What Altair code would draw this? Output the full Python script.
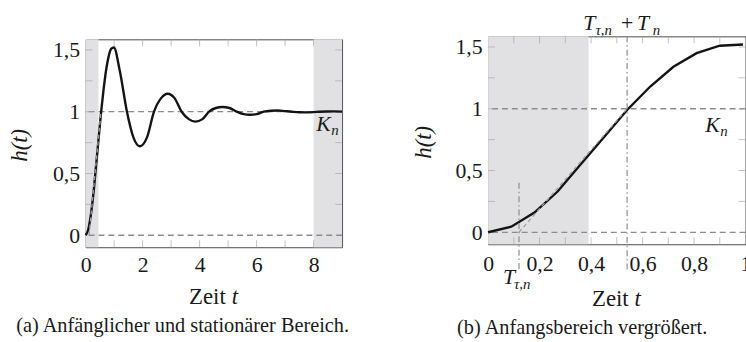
import altair as alt
import pandas as pd

# ---------------- data ----------------
t_vals = [0, 0.09, 0.18, 0.27, 0.36, 0.45, 0.54, 0.63, 0.72, 0.81, 0.90, 0.99,
          1.2, 1.45, 1.68, 1.9, 2.15, 2.4, 2.65, 2.88, 3.12, 3.37, 3.62, 3.85,
          4.1, 4.33, 4.57, 4.8, 5.05, 5.3, 5.55, 5.77, 6.0, 6.25, 6.5, 6.73,
          7.0, 7.25, 7.5, 7.72, 8.0, 8.2, 8.45, 8.7, 9.0]
h_vals = [0, 0.045, 0.16, 0.33, 0.55, 0.77, 0.99, 1.18, 1.34, 1.45, 1.51, 1.52,
          1.33, 1.0, 0.79, 0.72, 0.79, 1.0, 1.11, 1.145, 1.11, 1.0, 0.94, 0.92,
          0.94, 1.0, 1.03, 1.038, 1.03, 1.0, 0.98, 0.975, 0.98, 1.0, 1.008, 1.01,
          1.005, 1.0, 0.996, 0.995, 0.997, 1.0, 1.002, 1.003, 1.001]

shade_a_start = [0, 8]
shade_a_end = [0.45, 9]
shade_b_start = [0]
shade_b_end = [0.39]
ref_levels = [0, 1]                 # dashed lines: 0 and K_n
tangent_t = [0.12, 0.54]
tangent_h = [0, 1]
vline_t = [0.12, 0.54]             # T_tau,n and T_tau,n + T_n
vline_top = [0.4, 1.586]
vline_bottom = [-0.32, -0.32]

xa_labels = [0, 2, 4, 6, 8]
xa_ticks = [1, 2, 3, 4, 5, 6, 7, 8]
xb_labels = [0, 0.2, 0.4, 0.6, 0.8, 1]
xb_ticks = [0.1, 0.2, 0.3, 0.4, 0.5, 0.6, 0.7, 0.8, 0.9]
y_labels = [0, 0.5, 1, 1.5]
y_ticks = [0.25, 0.5, 0.75, 1, 1.25, 1.5]

caption_a = "(a) Anfänglicher und stationärer Bereich."
caption_b = "(b) Anfangsbereich vergrößert."

# ---------------- styling ----------------
W_A, W_B, H = 259, 260, 210
Y_MIN, Y_MAX = -0.097, 1.586
FONT = "'Liberation Serif', 'DejaVu Serif', serif"
TXT = "#1a1a1a"
TICK = "#a8a8a8"
SHADE = "#e1e1e3"
DASH = "#8c8c8c"

curve = pd.DataFrame({"t": t_vals, "h": h_vals})
one = pd.DataFrame({"_": [0]})

xs_a = alt.Scale(domain=[0, 9], nice=False, zero=False)
xs_b = alt.Scale(domain=[0, 1], nice=False, zero=False)
ys = alt.Scale(domain=[Y_MIN, Y_MAX], nice=False, zero=False)

comma = "replace(datum.label, '.', ',')"
ax_xa = alt.Axis(values=xa_labels, format="d", title=None, labelPadding=8,
                 labelFlush=False, labelOverlap=False)
ax_xb = alt.Axis(values=xb_labels, format=".1~f", labelExpr=comma, title=None,
                 labelPadding=10, labelFlush=False, labelOverlap=False)
ax_y = alt.Axis(values=y_labels, format=".1~f", labelExpr=comma, title=None,
                labelPadding=6, labelFlush=False, labelOverlap=False)


def panel(xs, ax_x, xmax, width, shade_s, shade_e, xticks):
    X = lambda f: alt.X(f, type="quantitative", scale=xs, axis=ax_x)
    Y = lambda f: alt.Y(f, type="quantitative", scale=ys, axis=ax_y)
    XD = lambda v: alt.XDatum(v, type="quantitative", scale=xs, axis=ax_x)
    YD = lambda v: alt.YDatum(v, type="quantitative", scale=ys, axis=ax_y)

    shade = alt.Chart(pd.DataFrame({"s": shade_s, "e": shade_e})).mark_rect(
        color=SHADE).encode(x=X("s"), x2="e", y=YD(Y_MIN), y2=alt.Y2Datum(Y_MAX))
    ref = alt.Chart(pd.DataFrame({"r": ref_levels})).mark_rule(
        color=DASH, strokeWidth=1.3, strokeDash=[6, 4]).encode(y=Y("r"))
    tk = pd.DataFrame({"v": xticks})
    tky = pd.DataFrame({"v": y_ticks})
    tb = alt.Chart(tk).mark_tick(orient="vertical", size=7, thickness=1, color=TICK,
                                 yOffset=-3.5).encode(x=X("v"), y=YD(Y_MIN))
    tt = alt.Chart(tk).mark_tick(orient="vertical", size=7, thickness=1, color=TICK,
                                 yOffset=3.5).encode(x=X("v"), y=YD(Y_MAX))
    tl = alt.Chart(tky).mark_tick(orient="horizontal", size=7, thickness=1, color=TICK,
                                  xOffset=3.5).encode(y=Y("v"), x=XD(0))
    tr = alt.Chart(tky).mark_tick(orient="horizontal", size=7, thickness=1, color=TICK,
                                  xOffset=-3.5).encode(y=Y("v"), x=XD(xmax))
    tan = alt.Chart(pd.DataFrame({"t": tangent_t, "h": tangent_h})).mark_line(
        color="#a0a0a0", strokeWidth=1.3, strokeDash=[4, 3], clip=True).encode(
        x=X("t"), y=Y("h"))
    return X, Y, XD, YD, [shade, ref, tb, tt, tl, tr], tan


def txt(text, size=22, style="normal", align="center", baseline="alphabetic",
        dx=0, dy=0, angle=0):
    return alt.Chart(one).mark_text(text=text, font=FONT, fontSize=size,
                                    fontStyle=style, align=align, baseline=baseline,
                                    dx=dx, dy=dy, angle=angle, color=TXT)


# ---------------- left panel ----------------
X, Y, XD, YD, base_a, tan_a = panel(xs_a, ax_xa, 9, W_A, shade_a_start, shade_a_end,
                                    xa_ticks)
line_a = alt.Chart(curve).mark_line(color="#141414", strokeWidth=2.4,
                                    interpolate="monotone").encode(x=X("t"), y=Y("h"))
left_layers = base_a + [line_a, tan_a,
    txt("K", style="italic", align="right").encode(x=XD(8.6), y=YD(0.84)),
    txt("n", size=15, style="italic", align="left", dx=0.5, dy=4).encode(x=XD(8.6), y=YD(0.84)),
    txt("Zeit", size=23, align="right", dx=12).encode(x=XD(4.5), y=alt.value(H + 57)),
    txt("t", size=23, style="italic", align="left", dx=18).encode(x=XD(4.5), y=alt.value(H + 57)),
    txt("h(t)", size=23, style="italic", baseline="middle", angle=270).encode(
        x=alt.value(-66), y=alt.value(107)),
    txt(caption_a, size=20.5).encode(x=alt.value(98), y=alt.value(296)),
]
left = alt.layer(*left_layers).properties(width=W_A, height=H)

# small empty strip that lowers the left panel a few pixels below the right one
spacer = alt.Chart(one).mark_rule(opacity=0).encode(
    x=alt.value(0), y=alt.value(0), y2=alt.value(1)
).properties(width=W_A, height=1, view=alt.ViewBackground(stroke="transparent"))
left_col = alt.vconcat(spacer, left, spacing=0)

# ---------------- right panel ----------------
X, Y, XD, YD, base_b, tan_b = panel(xs_b, ax_xb, 1, W_B, shade_b_start, shade_b_end,
                                    xb_ticks)
line_b = alt.Chart(curve).transform_filter("datum.t <= 1").mark_line(
    color="#141414", strokeWidth=2.4).encode(x=X("t"), y=Y("h"))
vl = alt.Chart(pd.DataFrame({"t": vline_t, "a": vline_top, "b": vline_bottom})).mark_rule(
    color="#8c8c8c", strokeWidth=1.2, strokeDash=[6, 3, 1.5, 3], clip=False).encode(
    x=X("t"), y=Y("a"), y2="b")
right_layers = base_b + [line_b, tan_b, vl,
    txt("K", style="italic", align="right").encode(x=XD(0.9), y=YD(0.815)),
    txt("n", size=15, style="italic", align="left", dx=0.5, dy=4).encode(x=XD(0.9), y=YD(0.815)),
    # T_tau,n + T_n above the plot
    txt("T", style="italic", align="right", dx=-32).encode(x=XD(0.54), y=alt.value(-6.6)),
    txt("τ,n", size=15, style="italic", align="left", dx=-32).encode(x=XD(0.54), y=alt.value(-1.6)),
    txt("+", align="center").encode(x=XD(0.54), y=alt.value(-6.6)),
    txt("T", style="italic", align="left", dx=10).encode(x=XD(0.54), y=alt.value(-6.6)),
    txt("n", size=15, style="italic", align="left", dx=26).encode(x=XD(0.54), y=alt.value(-1.6)),
    # T_tau,n below the axis
    txt("T", style="italic", align="right", dx=-4).encode(x=XD(0.12), y=alt.value(H + 40)),
    txt("τ,n", size=15, style="italic", align="left", dx=-5).encode(x=XD(0.12), y=alt.value(H + 45)),
    txt("Zeit", size=23, align="right", dx=12).encode(x=XD(0.5), y=alt.value(H + 62)),
    txt("t", size=23, style="italic", align="left", dx=18).encode(x=XD(0.5), y=alt.value(H + 62)),
    txt("h(t)", size=23, style="italic", baseline="middle", angle=270).encode(
        x=alt.value(-65), y=alt.value(107)),
    txt(caption_b, size=20.5).encode(x=alt.value(95), y=alt.value(301)),
]
right = alt.layer(*right_layers).properties(width=W_B, height=H)

chart = alt.hconcat(left_col, right, spacing=61.5, bounds="full").properties(
    padding={"left": 8.5, "top": 9, "right": -6, "bottom": 0}
).configure_view(stroke="#4a4a4a", strokeWidth=1).configure_axis(
    ticks=False, domain=False, grid=False, labelFont=FONT, labelFontSize=22,
    labelColor=TXT)

chart.save("out.html", embed_options={"renderer": "svg", "actions": False})
